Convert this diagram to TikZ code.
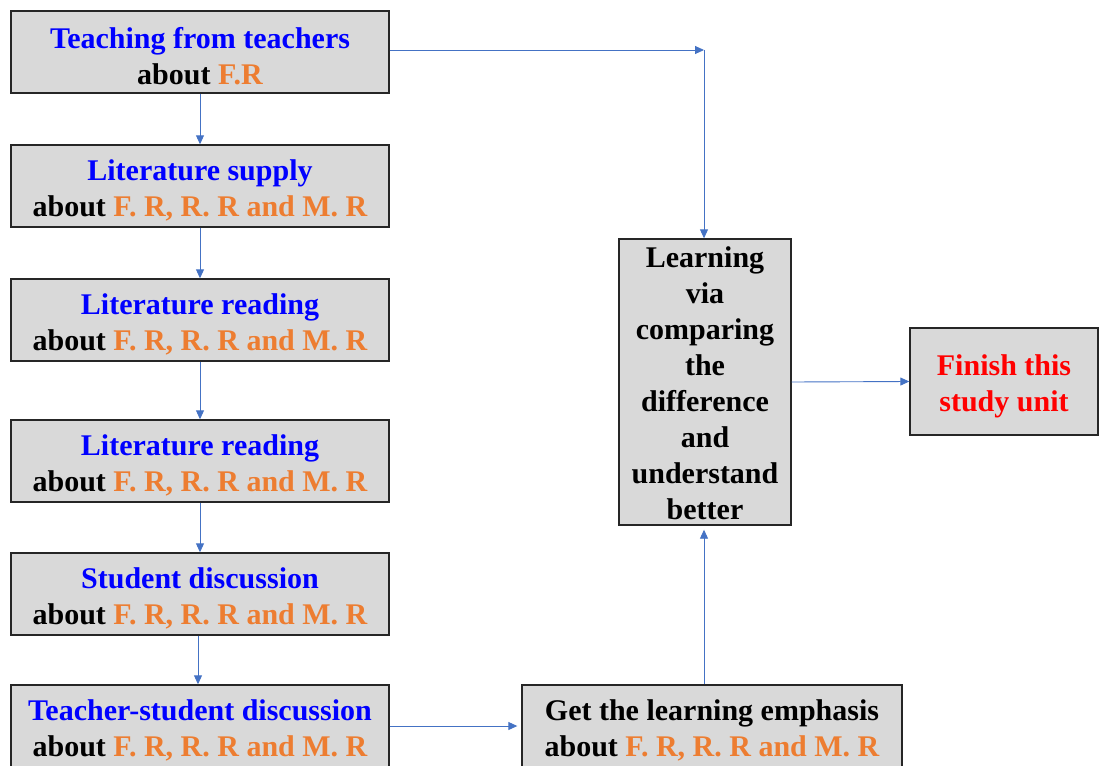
\documentclass[tikz,border=0pt]{standalone}
\usepackage{fontspec}
\setmainfont{Liberation Serif}
\usetikzlibrary{arrows.meta}
\definecolor{boxgray}{HTML}{D9D9D9}
\definecolor{arrblue}{HTML}{4472C4}
\definecolor{txtorange}{HTML}{ED7D31}
\definecolor{txtblue}{HTML}{0000FF}
\definecolor{txtred}{HTML}{FF0000}
\begin{document}
\begin{tikzpicture}[x=1pt,y=-1pt,
  box/.style={draw=black!85, line width=1.4pt, fill=boxgray, inner sep=0pt},
  leftbox/.style={box, minimum width=378pt, minimum height=82pt},
  txt/.style={inner sep=0pt, align=center, font=\fontsize{30}{36}\selectfont\bfseries},
  arr/.style={draw=arrblue, line width=0.9pt, -{Triangle[length=9pt,width=8pt]}}]
\useasboundingbox (0,0) rectangle (1099,765);
\clip (0,0) rectangle (1099,765);
% boxes
\node[leftbox] (b1) at (200,52) {};
\node[leftbox] (b2) at (200,186) {};
\node[leftbox] (b3) at (200,320) {};
\node[leftbox] (b4) at (200,461) {};
\node[leftbox] (b5) at (200,594) {};
\node[leftbox] (b6) at (200,726) {};
\node[box, minimum width=172pt, minimum height=286pt] (learn) at (705,382) {};
\node[box, minimum width=188pt, minimum height=107pt] (fin) at (1004,381.5) {};
\node[box, minimum width=380pt, minimum height=82pt] (get) at (712,726) {};
% texts
\node[txt] (b1t) at ([yshift=-4pt]b1.center) {\textcolor{txtblue}{Teaching from teachers}\\about \textcolor{txtorange}{F.R}};
\node[txt] (b2t) at ([yshift=-4pt]b2.center) {\textcolor{txtblue}{Literature supply}\\about \textcolor{txtorange}{F. R, R. R and M. R}};
\node[txt] (b3t) at ([yshift=-4pt]b3.center) {\textcolor{txtblue}{Literature reading}\\about \textcolor{txtorange}{F. R, R. R and M. R}};
\node[txt] (b4t) at ([yshift=-4pt]b4.center) {\textcolor{txtblue}{Literature reading}\\about \textcolor{txtorange}{F. R, R. R and M. R}};
\node[txt] (b5t) at ([yshift=-4pt]b5.center) {\textcolor{txtblue}{Student discussion}\\about \textcolor{txtorange}{F. R, R. R and M. R}};
\node[txt] (b6t) at ([yshift=-4pt]b6.center) {\textcolor{txtblue}{Teacher-student discussion}\\about \textcolor{txtorange}{F. R, R. R and M. R}};
\node[txt] (learnt) at ([yshift=-1.5pt]learn.center)
  {Learning\\via\\comparing\\the\\difference\\and\\understand\\better};
\node[txt, text=txtred] (fint) at ([yshift=-5pt]fin.center) {Finish this\\study unit};
\node[txt] (gett) at ([yshift=-4pt]get.center)
  {Get the learning emphasis\\about \textcolor{txtorange}{F. R, R. R and M. R}};
% connectors
\coordinate (c1) at (704,50);
\draw[arr] (b1.south) -- (b2.north);
\draw[arr] (b2.south) -- (b3.north);
\draw[arr] (b3.south) -- (b4.north);
\draw[arr] (b4.south) -- (b5.north);
\draw[arr] ([xshift=-2pt]b5.south) -- ([xshift=-2pt]b6.north);
\draw[arr] (b1.east |- c1) -- (c1);
\draw[arr] (c1) -- (c1 |- learn.north);
\draw[arr] (learn.east) -- (fin.west);
\draw[arr] (b6.east) -- ([xshift=-4pt]get.west);
\draw[arr] (c1 |- get.north) -- ([yshift=-4pt]c1 |- learn.south);
\end{tikzpicture}
\end{document}
